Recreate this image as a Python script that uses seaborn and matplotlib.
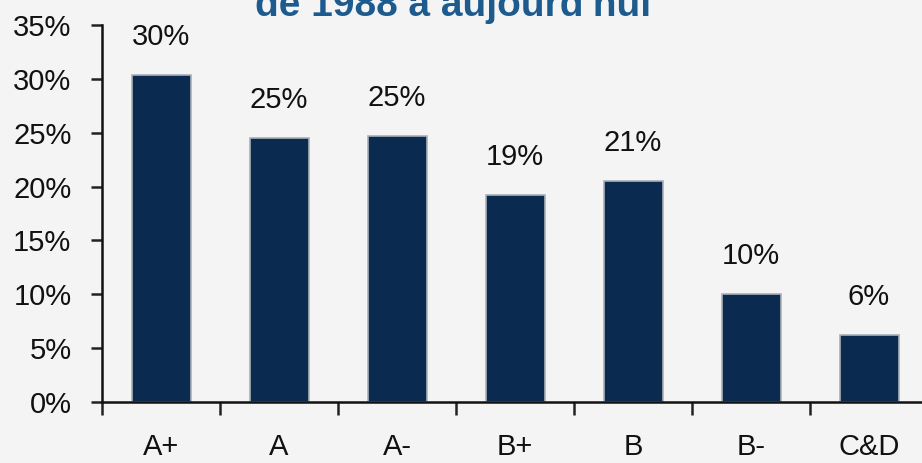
import matplotlib
matplotlib.use("Agg")
import matplotlib.pyplot as plt
import seaborn as sns
import numpy as np
from matplotlib import font_manager as fm
from matplotlib.ticker import FixedLocator, FuncFormatter

categories = ["A+", "A", "A-", "B+", "B", "B-", "C&D"]
values = [30.4, 24.5, 24.7, 19.2, 20.5, 10.0, 6.2]
labels = ["30%", "25%", "25%", "19%", "21%", "10%", "6%"]
yticks = [0, 5, 10, 15, 20, 25, 30, 35]

sns.set_style("white")
names = {f.name for f in fm.fontManager.ttflist}
fam = "Liberation Sans Narrow" if "Liberation Sans Narrow" in names else "Liberation Sans"
plt.rcParams["font.family"] = [fam, "DejaVu Sans"]

bg = "#f4f4f4"
fig = plt.figure(figsize=(9.22, 4.63), dpi=100, facecolor=bg)
ax = fig.add_axes([102/922, 61/463, 826/922, 377/463])
ax.set_facecolor(bg)

sns.barplot(x=categories, y=values, color="#0b2a4f", saturation=1, width=0.5,
            edgecolor="#a9b0b8", linewidth=1.2, ax=ax)

ax.set_xlim(-0.5, 6.5)
ax.set_ylim(0, 35)
ax.set_yticks(yticks)
ax.yaxis.set_major_formatter(FuncFormatter(lambda v, p: f"{int(v)}%"))
ax.tick_params(axis="y", direction="out", length=8, width=1.8, color="#222222",
               labelsize=21, pad=14, left=True, labelcolor="#111111")
ax.tick_params(axis="x", which="major", length=0, pad=22, labelsize=21, labelcolor="#111111")
ax.xaxis.set_minor_locator(FixedLocator(np.arange(-0.5, 7, 1.0)))
ax.tick_params(axis="x", which="minor", direction="out", length=9, width=1.8,
               color="#222222", bottom=True)
ax.set_xlabel("")
ax.set_ylabel("")
for s in ["top", "right"]:
    ax.spines[s].set_visible(False)
for s in ["left", "bottom"]:
    ax.spines[s].set_color("#111111")
    ax.spines[s].set_linewidth(1.8)

for i, (v, t) in enumerate(zip(values, labels)):
    ax.annotate(t, (i, v), xytext=(0, 38), textcoords="offset pixels",
                ha="center", va="center", fontsize=21, color="#111111")

fig.text(453/922, 1 - 16/463, "de 1988 à aujourd'hui", ha="center", va="baseline",
         fontsize=28, fontweight="bold", color="#1d5a8e", family=["Liberation Sans", "DejaVu Sans"])

fig.savefig("out.png", dpi=100, facecolor=bg)
